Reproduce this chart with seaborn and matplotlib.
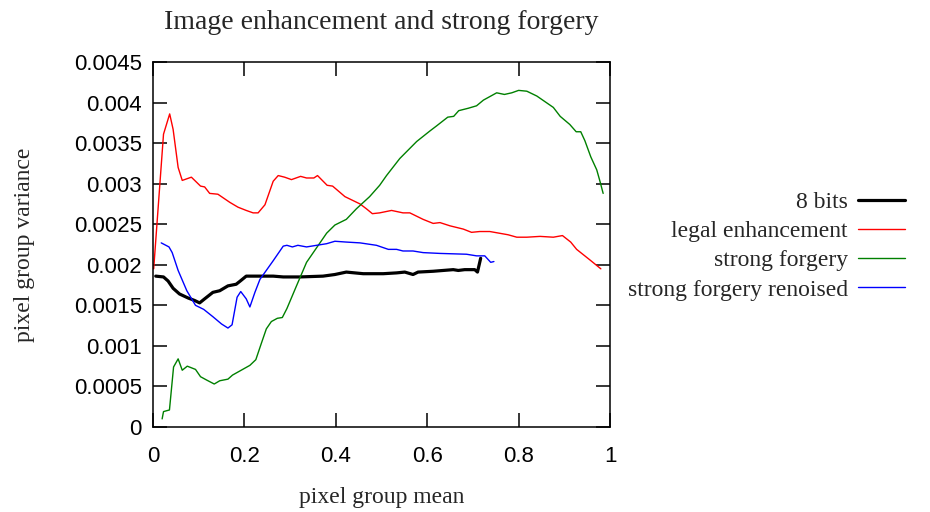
import numpy as np
import pandas as pd
import matplotlib
matplotlib.use("Agg")
import matplotlib.pyplot as plt
import seaborn as sns

# =========================
# DATA
# =========================

bits8_x = [0.006, 0.023, 0.033, 0.044, 0.058, 0.077, 0.091, 0.102, 0.113, 0.131,
           0.146, 0.164, 0.182, 0.191, 0.204, 0.234, 0.263, 0.285, 0.321, 0.372,
           0.398, 0.423, 0.460, 0.504, 0.533, 0.551, 0.569, 0.580, 0.613, 0.635,
           0.657, 0.668, 0.682, 0.704, 0.710, 0.717]
bits8_y = [0.00186, 0.00185, 0.00180, 0.00171, 0.00164, 0.00159, 0.00156, 0.00153, 0.00158, 0.00166,
           0.00168, 0.00174, 0.00176, 0.00180, 0.00186, 0.00186, 0.00186, 0.00185, 0.00185, 0.00186,
           0.00188, 0.00191, 0.00189, 0.00189, 0.00190, 0.00191, 0.00188, 0.00191, 0.00192, 0.00193,
           0.00194, 0.00193, 0.00194, 0.00194, 0.00191, 0.00208]

legal_x = [0.0015, 0.023, 0.0365, 0.044, 0.055, 0.064, 0.084, 0.104, 0.113, 0.124,
           0.142, 0.168, 0.186, 0.204, 0.219, 0.230, 0.245, 0.263, 0.274, 0.288,
           0.303, 0.323, 0.336, 0.352, 0.360, 0.381, 0.393, 0.420, 0.453, 0.467,
           0.480, 0.496, 0.522, 0.547, 0.562, 0.591, 0.613, 0.628, 0.650, 0.679,
           0.697, 0.715, 0.737, 0.777, 0.796, 0.818, 0.847, 0.876, 0.896, 0.914,
           0.927, 0.956, 0.980]
legal_y = [0.00195, 0.00361, 0.00386, 0.00367, 0.00320, 0.00304, 0.00308, 0.00297, 0.00296, 0.00288,
           0.00287, 0.00277, 0.00271, 0.00267, 0.00264, 0.00264, 0.00274, 0.00303, 0.00310, 0.00308,
           0.00305, 0.00309, 0.00307, 0.00307, 0.00310, 0.00298, 0.00297, 0.00284, 0.00275, 0.00269,
           0.00263, 0.00264, 0.00267, 0.00264, 0.00264, 0.00256, 0.00251, 0.00252, 0.00248, 0.00244,
           0.00240, 0.00241, 0.00241, 0.00237, 0.00234, 0.00234, 0.00235, 0.00234, 0.00236, 0.00228,
           0.00219, 0.00206, 0.00195]

strong_x = [0.020, 0.023, 0.036, 0.045, 0.055, 0.064, 0.075, 0.093, 0.104, 0.117,
            0.134, 0.146, 0.164, 0.174, 0.193, 0.212, 0.225, 0.237, 0.248, 0.259,
            0.272, 0.283, 0.293, 0.314, 0.336, 0.358, 0.380, 0.398, 0.423, 0.445,
            0.474, 0.496, 0.511, 0.540, 0.577, 0.606, 0.620, 0.645, 0.658, 0.669,
            0.690, 0.708, 0.723, 0.752, 0.769, 0.785, 0.800, 0.818, 0.840, 0.876,
            0.891, 0.912, 0.926, 0.936, 0.945, 0.958, 0.971, 0.978, 0.985]
strong_y = [0.00010, 0.00019, 0.00021, 0.00074, 0.00084, 0.00070, 0.00075, 0.00071, 0.00062, 0.00058,
            0.00053, 0.00057, 0.00059, 0.00064, 0.00070, 0.00076, 0.00083, 0.00103, 0.00121, 0.00130,
            0.00134, 0.00135, 0.00146, 0.00174, 0.00203, 0.00221, 0.00239, 0.00249, 0.00256, 0.00269,
            0.00284, 0.00298, 0.00310, 0.00331, 0.00352, 0.00365, 0.00371, 0.00382, 0.00383, 0.00390,
            0.00393, 0.00396, 0.00403, 0.00412, 0.00410, 0.00412, 0.00415, 0.00414, 0.00408, 0.00394,
            0.00383, 0.00373, 0.00364, 0.00364, 0.00353, 0.00333, 0.00317, 0.00303, 0.00288]

renoised_x = [0.018, 0.035, 0.042, 0.055, 0.074, 0.093, 0.111, 0.131, 0.150, 0.164,
              0.173, 0.184, 0.192, 0.204, 0.212, 0.223, 0.234, 0.263, 0.285, 0.293,
              0.305, 0.317, 0.336, 0.358, 0.380, 0.398, 0.423, 0.453, 0.489, 0.515,
              0.533, 0.547, 0.569, 0.591, 0.628, 0.686, 0.708, 0.726, 0.739, 0.746]
renoised_y = [0.00227, 0.00222, 0.00215, 0.00193, 0.00168, 0.00150, 0.00145, 0.00136, 0.00127, 0.00122,
              0.00126, 0.00160, 0.00167, 0.00158, 0.00148, 0.00166, 0.00182, 0.00205, 0.00223, 0.00224,
              0.00222, 0.00224, 0.00222, 0.00224, 0.00226, 0.00229, 0.00228, 0.00227, 0.00224, 0.00219,
              0.00219, 0.00217, 0.00217, 0.00215, 0.00214, 0.00213, 0.00211, 0.00211, 0.00203, 0.00204]

labels = ["8 bits", "legal enhancement", "strong forgery", "strong forgery renoised"]
colors = ["black", "#ff0000", "#008000", "#0000ff"]
widths = [2.3, 1.0, 1.0, 1.0]

x_ticks = [0, 0.2, 0.4, 0.6, 0.8, 1]
x_tick_labels = ["0", "0.2", "0.4", "0.6", "0.8", "1"]
y_ticks = [0, 0.0005, 0.001, 0.0015, 0.002, 0.0025, 0.003, 0.0035, 0.004, 0.0045]
y_tick_labels = ["0", "0.0005", "0.001", "0.0015", "0.002", "0.0025", "0.003", "0.0035", "0.004", "0.0045"]

# =========================
# PLOT
# =========================

sns.set_style("ticks")
plt.rcParams["font.family"] = ["Liberation Serif", "DejaVu Serif"]

fig = plt.figure(figsize=(9.3, 5.12), dpi=100)
ax = fig.add_axes([153 / 930, 1 - 427 / 512, 457 / 930, 365 / 512])

series = [(bits8_x, bits8_y), (legal_x, legal_y), (strong_x, strong_y), (renoised_x, renoised_y)]
for (xs, ys), lab, col, lw in zip(series, labels, colors, widths):
    df = pd.DataFrame({"mean": xs, "variance": ys})
    sns.lineplot(data=df, x="mean", y="variance", color=col, lw=lw,
                 label=lab, ax=ax, sort=False, legend=False)

ax.set_xlim(0, 1)
ax.set_ylim(0, 0.0045)
ax.set_xticks(x_ticks)
ax.set_xticklabels(x_tick_labels)
ax.set_yticks(y_ticks)
ax.set_yticklabels(y_tick_labels)

ax.tick_params(direction="in", length=10, width=1.1, top=True, right=True,
               labelsize=16, colors="black")
ax.tick_params(axis="x", pad=14)
ax.tick_params(axis="y", pad=8)
for lab in ax.get_xticklabels() + ax.get_yticklabels():
    lab.set_fontfamily("Liberation Sans")
for sp in ax.spines.values():
    sp.set_visible(True)
    sp.set_linewidth(1.1)
    sp.set_color("black")

ax.set_title("Image enhancement and strong forgery", fontsize=20, pad=24)
ax.set_xlabel("pixel group mean", fontsize=17, labelpad=14)
ax.set_ylabel("pixel group variance", fontsize=17, labelpad=28)
ax.grid(False)

handles, leg_labels = ax.get_legend_handles_labels()
fig.legend(handles, leg_labels, loc="center right",
           bbox_to_anchor=(905 / 930, 1 - 246 / 512),
           markerfirst=False, frameon=False, fontsize=17,
           handlelength=2.0, handletextpad=0.42, labelspacing=0.33,
           borderpad=0, borderaxespad=0)

plt.savefig("out.png", dpi=100)
